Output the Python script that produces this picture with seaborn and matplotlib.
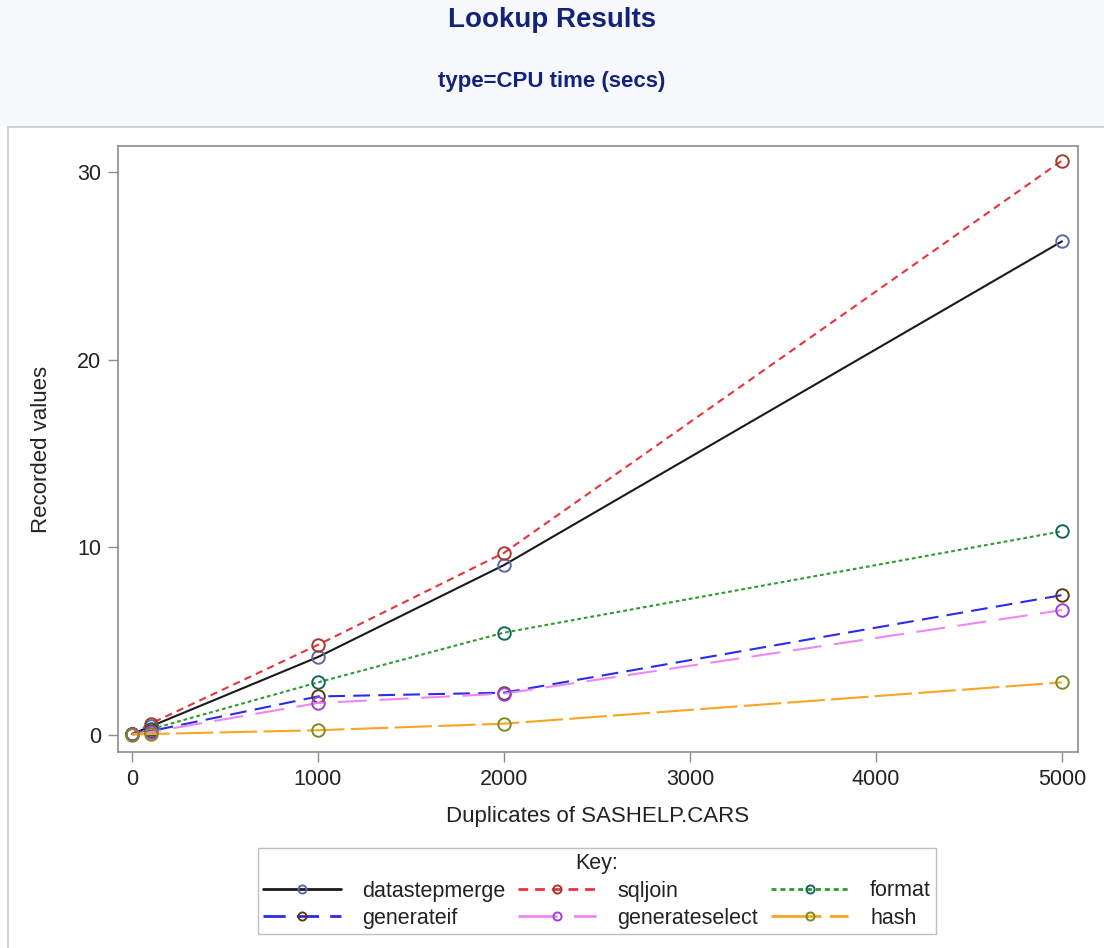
import numpy as np
import pandas as pd
import seaborn as sns
import matplotlib.pyplot as plt
from matplotlib.patches import Rectangle

duplicates = [1, 100, 1000, 2000, 5000]
datastepmerge = [0.05, 0.45, 4.15, 9.05, 26.3]
sqljoin = [0.05, 0.6, 4.8, 9.7, 30.6]
format_ = [0.03, 0.3, 2.8, 5.45, 10.85]
generateif = [0.03, 0.2, 2.05, 2.25, 7.45]
generateselect = [0.03, 0.15, 1.7, 2.2, 6.65]
hash_ = [0.01, 0.05, 0.25, 0.6, 2.8]

series = {
    'datastepmerge': datastepmerge,
    'sqljoin': sqljoin,
    'format': format_,
    'generateif': generateif,
    'generateselect': generateselect,
    'hash': hash_,
}

# line colour, marker colour, dash pattern
styles = {
    'datastepmerge': ('#1a1a1a', '#5a68a8', None),
    'sqljoin': ('#e8333a', '#a33a2e', (3.5, 2.5)),
    'format': ('#2f9a2f', '#11665e', (1.8, 1.4)),
    'generateif': ('#2b2be8', '#5a3a10', (8, 4)),
    'generateselect': ('#ee88ee', '#a040d8', (14, 6)),
    'hash': ('#f5a623', '#7f8a1f', (18, 3)),
}

rows = []
for name, vals in series.items():
    for x, y in zip(duplicates, vals):
        rows.append({'key': name, 'dup': x, 'val': y})
df = pd.DataFrame(rows)

sns.set_style('white')
plt.rcParams['font.family'] = ['Liberation Sans', 'DejaVu Sans']

fig = plt.figure(figsize=(11.04, 9.48), dpi=100)

# header band and panel border (behind the axes)
fig.patches.append(Rectangle((0, 1 - 127 / 948), 1, 127 / 948, transform=fig.transFigure,
                             facecolor='#f6f8fb', edgecolor='none', zorder=-2))
fig.patches.append(Rectangle((8 / 1104, -0.01), 1.2, 1.01 - 127 / 948, transform=fig.transFigure,
                             facecolor='white', edgecolor='#c8c8c8', lw=1.2, zorder=-1))

ax = fig.add_axes([118 / 1104, 1 - 752 / 948, (1078 - 118) / 1104, (752 - 146) / 948])

for name in series:
    lc, mc, dash = styles[name]
    ls = '-' if dash is None else (0, dash)
    sns.lineplot(data=df[df['key'] == name], x='dup', y='val', ax=ax, color=lc,
                 linestyle=ls, lw=1.5, marker='o', markersize=9, mfc='none',
                 mec=mc, markeredgewidth=1.4, label=name)

ax.set_xlim(-75, 5086)
ax.set_ylim(-0.91, 31.38)
ax.set_xticks([0, 1000, 2000, 3000, 4000, 5000])
ax.set_yticks([0, 10, 20, 30])
for s in ax.spines.values():
    s.set_color('#8c8c8c')
    s.set_linewidth(1.2)
ax.tick_params(axis='both', direction='out', length=7, width=1, color='#8c8c8c',
               labelsize=15.5, labelcolor='#222222', left=True, bottom=True, pad=5)
ax.set_xlabel('Duplicates of SASHELP.CARS', fontsize=16, color='#222222', labelpad=12)
ax.set_ylabel('Recorded values', fontsize=16, color='#222222', labelpad=18)

fig.text(0.5, 1 - 20 / 948, 'Lookup Results', ha='center', va='center',
         fontsize=20, fontweight='bold', color='#13237a')
fig.text(0.5, 1 - 82 / 948, 'type=CPU time (secs)', ha='center', va='center',
         fontsize=16, fontweight='bold', color='#13237a')

handles, labels = ax.get_legend_handles_labels()
order = ['datastepmerge', 'generateif', 'sqljoin', 'generateselect', 'format', 'hash']
hmap = dict(zip(labels, handles))
leg = ax.legend([hmap[k] for k in order], order, ncol=3, title='Key:',
                loc='center', bbox_to_anchor=(597 / 1104, 1 - 891 / 948),
                bbox_transform=fig.transFigure, fontsize=15.5, title_fontsize=15.5,
                handlelength=3.6, columnspacing=0.6, handletextpad=1.0,
                markerscale=0.65, frameon=True, fancybox=False, edgecolor='#b0b0b0',
                borderpad=0.25, labelspacing=0.3, borderaxespad=0)
leg.get_frame().set_linewidth(1.0)
leg.get_title().set_color('#222222')
for t in leg.get_texts():
    t.set_color('#222222')
for h in leg.legend_handles:
    h.set_linewidth(2.0)

fig.savefig('out.png', dpi=100)
